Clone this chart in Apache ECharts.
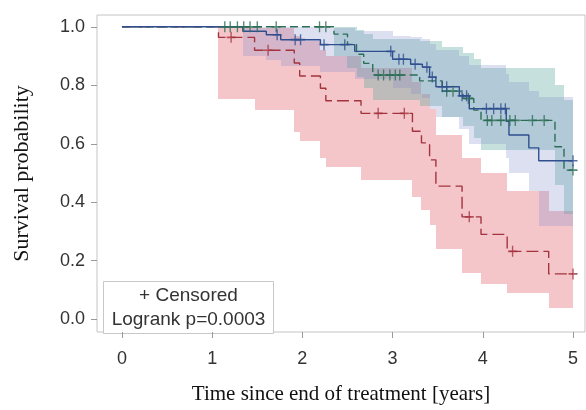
<!DOCTYPE html>
<html><head><meta charset="utf-8">
<script src="https://cdn.jsdelivr.net/npm/echarts@6/dist/echarts.min.js"></script>
<style>html,body{margin:0;padding:0;background:#fff}#c{width:586px;height:410px}</style>
</head><body><div id="c"></div>
<script>
// ---- tick labels ----
const xTicks = [0, 1, 2, 3, 4, 5];
const yTicks = [0, 0.2, 0.4, 0.6, 0.8, 1.0];
const tEnd = 5.0;

// ---- blue group (solid) ----
const blueTime = [0, 1.34, 1.6, 1.76, 2.2, 2.58, 3.0, 3.2, 3.33, 3.41, 3.48, 3.74, 3.85, 4.26, 4.29, 4.51, 4.62];
const blueSurv = [1, 0.985, 0.973, 0.956, 0.939, 0.916, 0.889, 0.872, 0.862, 0.828, 0.795, 0.764, 0.72, 0.677, 0.63, 0.586, 0.542];
const blueLow  = [1, 0.9, 0.885, 0.865, 0.845, 0.82, 0.79, 0.77, 0.755, 0.72, 0.69, 0.65, 0.6, 0.55, 0.5, 0.44, 0.32];
const blueHigh = [1, 1, 1, 1, 0.995, 0.985, 0.97, 0.965, 0.96, 0.94, 0.92, 0.9, 0.87, 0.84, 0.81, 0.78, 0.76];
const blueCens = [1.72, 1.92, 1.98, 2.24, 2.47, 2.98, 3.07, 3.12, 3.25, 3.38, 3.44, 3.55, 3.6, 3.77, 3.82, 4.04, 4.12, 4.2, 4.25, 5.0];

// ---- red group (dashed) ----
const redTime = [0, 1.07, 1.47, 1.91, 1.97, 2.2, 2.26, 2.65, 3.22, 3.32, 3.41, 3.48, 3.77, 3.98, 4.27, 4.73];
const redSurv = [1, 0.964, 0.92, 0.876, 0.832, 0.79, 0.747, 0.704, 0.643, 0.603, 0.545, 0.455, 0.35, 0.29, 0.232, 0.155];
const redLow  = [1, 0.754, 0.714, 0.64, 0.61, 0.55, 0.52, 0.475, 0.418, 0.374, 0.323, 0.24, 0.158, 0.12, 0.088, 0.037];
const redHigh = [1, 1.0, 0.995, 0.97, 0.95, 0.92, 0.9, 0.86, 0.81, 0.77, 0.72, 0.63, 0.55, 0.5, 0.44, 0.37];
const redCens = [1.21, 1.62, 2.84, 3.13, 3.85, 4.33, 5.0];

// ---- green group (dashed) ----
const greenTime = [0, 2.35, 2.5, 2.6, 2.68, 2.78, 3.3, 3.55, 3.78, 3.9, 3.98, 4.8, 4.9];
const greenSurv = [1, 0.975, 0.94, 0.906, 0.875, 0.835, 0.815, 0.78, 0.755, 0.715, 0.68, 0.59, 0.51];
const greenLow  = [1, 0.9, 0.86, 0.83, 0.79, 0.75, 0.73, 0.69, 0.66, 0.62, 0.58, 0.46, 0.36];
const greenHigh = [1, 1, 1, 0.99, 0.975, 0.96, 0.95, 0.93, 0.91, 0.89, 0.86, 0.8, 0.75];
const greenCens = [1.14, 1.2, 1.28, 1.35, 1.42, 1.5, 1.71, 2.19, 2.26, 2.84, 2.9, 2.97, 3.03, 3.08, 3.6, 3.67, 3.84, 4.05, 4.1, 4.2, 4.3, 4.36, 4.55, 4.68, 5.0];

const legendLines = ['+ Censored', 'Logrank p=0.0003'];

// ---- builders ----
function stepLine(T, S) {
  const d = T.map((t, i) => [t, S[i]]);
  d.push([tEnd, S[S.length - 1]]);
  return d;
}
function survAt(T, S, t) {
  let v = S[0];
  for (let i = 0; i < T.length; i++) if (T[i] <= t) v = S[i];
  return v;
}
function censData(T, S, C) { return C.map(t => [t, survAt(T, S, t)]); }
function bandData(T, L, H) {
  const d = [];
  for (let i = 1; i < T.length; i++) {
    d.push([T[i], i + 1 < T.length ? T[i + 1] : tEnd, L[i], H[i]]);
  }
  return d;
}
function bandSeries(data, color) {
  return {
    type: 'custom', data: data, z: 1, silent: true, animation: false,
    encode: { x: [0, 1], y: [2, 3] },
    renderItem: function (params, api) {
      const p0 = api.coord([api.value(0), api.value(3)]);
      const p1 = api.coord([api.value(1), api.value(2)]);
      const x0 = Math.round(p0[0]), x1 = Math.round(p1[0]);
      const y0 = Math.round(p0[1]), y1 = Math.round(p1[1]);
      return { type: 'rect', shape: { x: x0, y: y0, width: x1 - x0, height: y1 - y0 }, style: { fill: color } };
    }
  };
}
const plusPath = 'path://M8.5,0L11.5,0L11.5,8.5L20,8.5L20,11.5L11.5,11.5L11.5,20L8.5,20L8.5,11.5L0,11.5L0,8.5L8.5,8.5Z';
function lineSeries(data, color, dash) {
  return {
    type: 'line', data: data, step: 'end', showSymbol: false, z: 3, silent: true, animation: false,
    lineStyle: { color: color, width: 1.4, type: dash }
  };
}
function censSeries(data, color) {
  return {
    type: 'scatter', data: data, symbol: plusPath, symbolSize: [9, 11], z: 4, silent: true, animation: false,
    itemStyle: { color: color }
  };
}

const cBlue = '#2f4f8f', cRed = '#a3343e', cGreen = '#2c6e55';

const chart = echarts.init(document.getElementById('c'), null, { renderer: 'canvas' });
chart.setOption({
  backgroundColor: '#fff',
  animation: false,
  grid: { left: 97, right: 1, top: 15, bottom: 73, show: true, borderColor: '#c4c4c4', borderWidth: 1, backgroundColor: 'transparent' },
  xAxis: {
    type: 'value', min: -0.2765, max: 5.1327,
    splitLine: { show: false },
    axisLine: { show: false, onZero: false },
    axisTick: { show: true, length: 6, inside: false, lineStyle: { color: '#9a9a9a' }, customValues: xTicks },
    axisLabel: { customValues: xTicks, formatter: v => String(Math.round(v)), fontFamily: 'Liberation Sans, Arial', fontSize: 18, color: '#333', margin: 18 },
    name: 'Time since end of treatment [years]', nameLocation: 'middle', nameGap: 52,
    nameTextStyle: { fontFamily: 'Liberation Serif, Times New Roman', fontSize: 21, color: '#111' }
  },
  yAxis: {
    type: 'value', min: -0.04377, max: 1.0404,
    splitLine: { show: false },
    axisLine: { show: false, onZero: false },
    axisTick: { show: true, length: 6, inside: false, lineStyle: { color: '#9a9a9a' }, customValues: yTicks },
    axisLabel: { customValues: yTicks, formatter: v => v.toFixed(1), fontFamily: 'Liberation Sans, Arial', fontSize: 18, color: '#333', margin: 12 },
    name: 'Survival probability', nameLocation: 'middle', nameGap: 64,
    nameTextStyle: { fontFamily: 'Liberation Serif, Times New Roman', fontSize: 22, color: '#111' }
  },
  graphic: [{
    type: 'group', left: 103, top: 281, z: 10,
    children: [
      { type: 'rect', shape: { x: 0, y: 0, width: 170, height: 52 }, style: { fill: '#fff', stroke: '#c8c8c8', lineWidth: 1 } },
      { type: 'text', x: 85, y: 14, style: { text: legendLines[0], fontFamily: 'Liberation Sans, Arial', fontSize: 19, fill: '#333', align: 'center', verticalAlign: 'middle' } },
      { type: 'text', x: 85, y: 38, style: { text: legendLines[1], fontFamily: 'Liberation Sans, Arial', fontSize: 19, fill: '#333', align: 'center', verticalAlign: 'middle' } }
    ]
  }],
  series: [
    bandSeries(bandData(redTime, redLow, redHigh), 'rgba(228,118,128,0.42)'),
    bandSeries(bandData(greenTime, greenLow, greenHigh), 'rgba(95,170,160,0.36)'),
    bandSeries(bandData(blueTime, blueLow, blueHigh), 'rgba(125,135,200,0.26)'),
    lineSeries(stepLine(redTime, redSurv), cRed, [12, 5]),
    lineSeries(stepLine(greenTime, greenSurv), cGreen, [8, 4]),
    lineSeries(stepLine(blueTime, blueSurv), cBlue, 'solid'),
    censSeries(censData(redTime, redSurv, redCens), cRed),
    censSeries(censData(greenTime, greenSurv, greenCens), cGreen),
    censSeries(censData(blueTime, blueSurv, blueCens), cBlue)
  ]
});
</script></body></html>
